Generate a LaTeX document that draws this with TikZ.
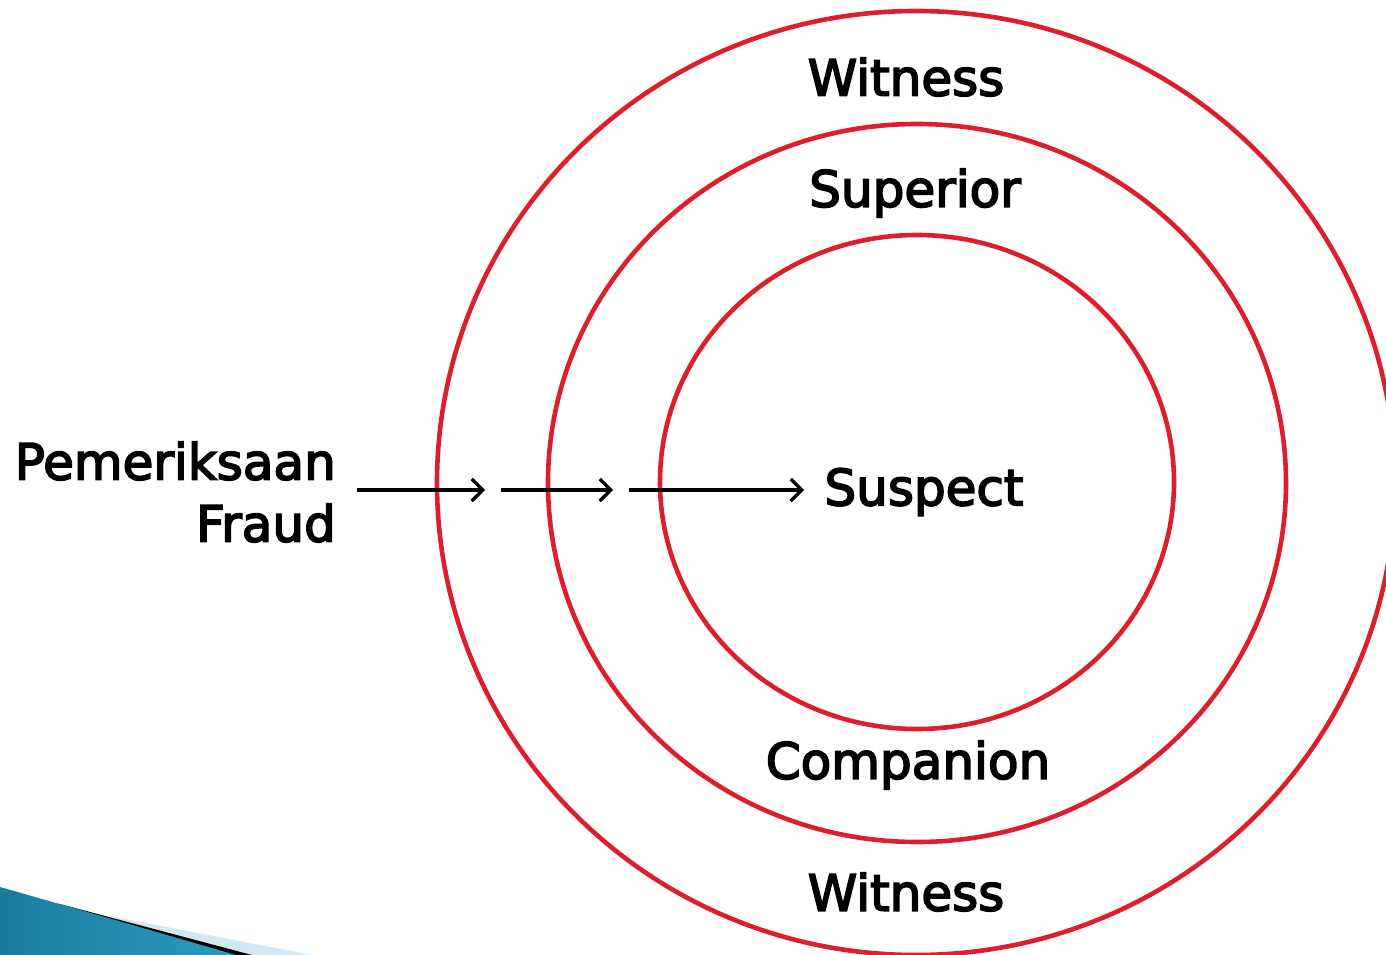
\documentclass[tikz,border=0pt]{standalone}
\usepackage{fontspec}
\setmainfont{DejaVu Sans}[FakeBold=3.4]
\newfontfamily\labelfont{DejaVu Sans}[FakeBold=3.4]
\usetikzlibrary{arrows.meta}
\definecolor{ringred}{HTML}{DC1F2A}
\definecolor{tealdark}{HTML}{1A7C9C}
\definecolor{teallight}{HTML}{2A9CC0}
\definecolor{paleblue}{HTML}{D3E9F2}
\tikzset{
  ring/.style={draw=ringred, line width=4.6pt},
  lbl/.style={font=\labelfont\fontsize{50}{58}\selectfont, inner sep=0pt},
  push/.style={draw=black, line width=3.2pt, -{Straight Barb[length=11pt,width=22pt,line width=3.2pt]}}
}
\begin{document}
\begin{tikzpicture}[x=1pt,y=-1pt]
\useasboundingbox (0,0) rectangle (1386,955);
\begin{scope}
\clip (0,0) rectangle (1386,955);
% corner swoosh
\fill[paleblue] (110,916) -- (312,955) -- (230,955) -- cycle;
\fill[black] (60,904) -- (252,955) -- (222,955) -- cycle;
\shade[left color=tealdark, right color=teallight]
  (0,887) .. controls (25,894) and (45,900) .. (60,904) -- (236,955) -- (0,955) -- cycle;
% nested rings
\draw[ring] (916,483) ellipse [x radius=479, y radius=472];
\draw[ring] (917,483) ellipse [x radius=369, y radius=359];
\draw[ring] (917,482) ellipse [x radius=257, y radius=247];
\end{scope}
% ring labels
\node[lbl] (w1) at (906,77) {Witness};
\node[lbl] (sup) at (915,193) {Superior};
\node[lbl] (sus) at (924,492) {Suspect};
\node[lbl] (comp) at (908,765) {Companion};
\node[lbl] (w2) at (906,892) {Witness};
\node[lbl, anchor=east, align=right] (pf) at (336,492) {Pemeriksaan\\[4pt]Fraud};
% arrows toward the centre
\coordinate (a0) at (357,490);
\coordinate (a1) at (485,490);
\coordinate (b0) at (501,490);
\coordinate (b1) at (613,490);
\coordinate (c0) at (629,490);
\coordinate (c1) at (804,490);
\draw[push] (a0) -- (a1);
\draw[push] (b0) -- (b1);
\draw[push] (c0) -- (c1);
\end{tikzpicture}
\end{document}
